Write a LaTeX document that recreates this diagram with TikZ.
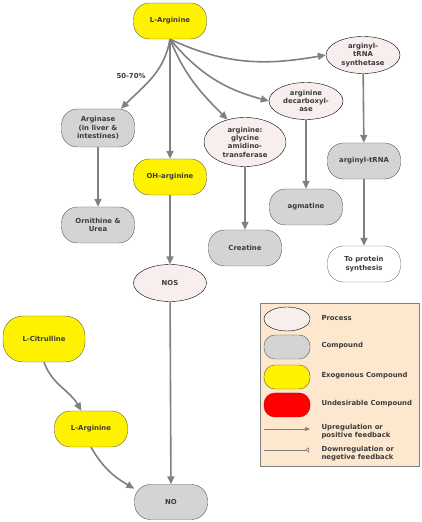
\documentclass[tikz,border=0pt]{standalone}
\usepackage{fontspec}
\setmainfont{DejaVu Sans}
\usetikzlibrary{shapes.geometric,arrows.meta}
\definecolor{inkgray}{HTML}{3C3C3C}
\definecolor{flowgray}{HTML}{808080}
\definecolor{procfill}{HTML}{F8EEEE}
\definecolor{compfill}{HTML}{D4D4D4}
\definecolor{legfill}{HTML}{FDE8CF}
\tikzset{
  every node/.style={font=\fontsize{6.9}{8.3}\selectfont\bfseries,text=inkgray,align=center},
  box/.style={draw,rectangle,rounded corners=16pt,minimum width=73pt,minimum height=36pt,inner sep=0pt},
  exo/.style={box,fill=yellow,draw=black!70!yellow},
  comp/.style={box,fill=compfill,draw=black!65},
  plain/.style={box,fill=white,draw=black!55},
  bad/.style={box,fill=red,draw=red!70!black},
  proc/.style={draw=black,ellipse,fill=procfill,minimum width=74pt,minimum height=37pt,inner sep=0pt},
  flow/.style={draw=flowgray,line width=1.6pt,-{Triangle[length=8pt,width=7pt]}},
}
\begin{document}
\begin{tikzpicture}[x=1pt,y=1pt]
    \useasboundingbox (0,0) rectangle (422,522);
    % main pathway
    \path (170,501) node(larg)[exo] {L-Arginine};
    \path (363,467) node(synth)[proc] {arginyl-\\tRNA\\synthetase};
    \path (306,421) node(decarb)[proc] {arginine\\decarboxyl-\\ase};
    \path (245,380) node(amid)[proc,minimum width=82pt,minimum height=49pt] {arginine:\\glycine\\amidino-\\transferase};
    \path (98,394) node(arginase)[comp,minimum height=38pt] {Arginase\\(in liver \&\\intestines)};
    \path (170,345) node(ohar)[exo] {OH-arginine};
    \path (98,297) node(orn)[comp] {Ornithine \&\\Urea};
    \path (245,274) node(creat)[comp] {Creatine};
    \path (306,315) node(agm)[comp] {agmatine};
    \path (364,361) node(trna)[comp] {arginyl-tRNA};
    \path (364,258) node(prot)[plain] {To protein\\synthesis};
    \path (170,239) node(nos)[proc,minimum width=73pt] {NOS};
    \path (44,183) node(citr)[exo,minimum width=82pt,minimum height=46pt,rounded corners=20pt] {L-Citrulline};
    \path (91,93) node(larg2)[exo] {L-Arginine};
    \path (171,20) node(no)[comp,minimum height=35pt] {NO};
    \path (131,446) node(pct) {50-70\%};
    % connectors
    \path (larg.south) edge[flow,out=-100,in=45] (arginase.40);
    \path (larg.south) edge[flow] (ohar);
    \path (larg.south) edge[flow,out=-68,in=135] (amid.128);
    \path (larg.south) edge[flow,out=-50,in=165] (decarb.west);
    \path (larg.south) edge[flow,out=-25,in=190] (synth.west);
    \path (arginase) edge[flow] (orn);
    \path (ohar) edge[flow] (nos);
    \path (amid) edge[flow] (creat);
    \path (decarb) edge[flow] (agm);
    \path (synth) edge[flow] (trna);
    \path (trna) edge[flow] (prot);
    \path (nos) edge[flow] (no);
    \path (citr.south) edge[flow,out=-70,in=120] (larg2.118);
    \path (larg2.south) edge[flow,out=-60,in=150] (no.160);
    % legend
    \path[draw=black!50,fill=legfill] (260,56) rectangle (419,219);
    \path (287,203) node(lproc)[proc,minimum width=46pt,minimum height=24pt] {};
    \path (287,175) node(lcomp)[comp,minimum width=46pt,minimum height=24pt,rounded corners=11pt] {};
    \path (287,145) node(lexo)[exo,minimum width=46pt,minimum height=24pt,rounded corners=11pt] {};
    \path (287,117) node(lbad)[bad,minimum width=46pt,minimum height=24pt,rounded corners=11pt] {};
    \path (318,204) node[anchor=west] {Process};
    \path (318,176) node[anchor=west] {Compound};
    \path (318,146) node[anchor=west] {Exogenous Compound};
    \path (318,118) node[anchor=west] {Undesirable Compound};
    \coordinate (upa) at (264,93);
    \coordinate (upb) at (310,93);
    \coordinate (dna) at (264,72);
    \coordinate (dnb) at (309,72);
    \path (upa) edge[draw=flowgray,line width=0.7pt,-{Triangle[length=5pt,width=4pt]}] (upb);
    \path (dna) edge[draw=flowgray,line width=0.7pt,-{Triangle[open,reversed,length=4pt,width=5pt]}] (dnb);
    \path (318,90.5) node[anchor=west,align=left] {Upregulation or\\positive feedback};
    \path (318,68.5) node[anchor=west,align=left] {Downregulation or\\negetive feedback};
\end{tikzpicture}
\end{document}
